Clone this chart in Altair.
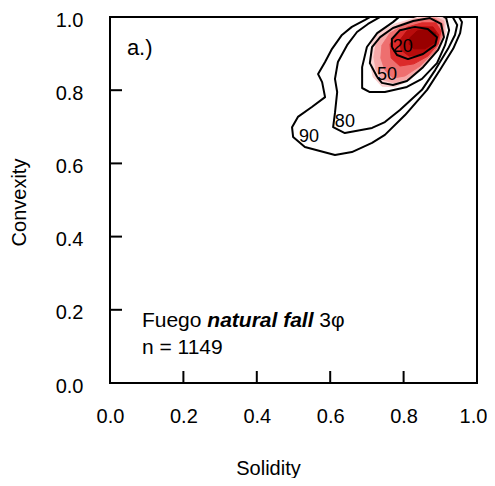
import altair as alt
import pandas as pd

# ---------------- data ----------------
tick_values = [0.0, 0.2, 0.4, 0.6, 0.8, 1.0]

# density contour lines (Solidity, Convexity)
contour_90 = [(0.722, 1.008), (0.695, 0.992), (0.659, 0.973), (0.632, 0.951), (0.605, 0.913),
              (0.586, 0.877), (0.567, 0.844), (0.578, 0.822), (0.586, 0.781), (0.550, 0.754),
              (0.512, 0.727), (0.496, 0.699), (0.499, 0.672), (0.531, 0.645), (0.613, 0.623),
              (0.659, 0.631), (0.714, 0.656), (0.749, 0.678), (0.804, 0.732), (0.864, 0.801),
              (0.899, 0.855), (0.935, 0.913), (0.954, 0.956), (0.959, 0.986), (0.940, 1.019),
              (0.845, 1.025)]
contour_80 = [(0.741, 1.003), (0.703, 0.981), (0.673, 0.959), (0.646, 0.923), (0.621, 0.877),
              (0.613, 0.831), (0.619, 0.795), (0.613, 0.738), (0.608, 0.699), (0.640, 0.683),
              (0.714, 0.697), (0.749, 0.713), (0.790, 0.746), (0.850, 0.801), (0.886, 0.855),
              (0.921, 0.913), (0.940, 0.951), (0.946, 0.978), (0.926, 1.014), (0.790, 1.022)]
contour_70 = [(0.804, 1.014), (0.771, 0.986), (0.728, 0.956), (0.700, 0.918), (0.687, 0.863),
              (0.687, 0.806), (0.708, 0.795), (0.749, 0.795), (0.809, 0.809), (0.850, 0.831),
              (0.891, 0.874), (0.913, 0.923), (0.924, 0.964), (0.916, 0.997), (0.886, 1.016)]
contour_50 = [(0.728, 0.836), (0.708, 0.874), (0.714, 0.918), (0.736, 0.945), (0.771, 0.970),
              (0.826, 0.989), (0.872, 0.997), (0.902, 0.981), (0.910, 0.945), (0.894, 0.910),
              (0.853, 0.863), (0.809, 0.825), (0.771, 0.814), (0.741, 0.820)]
contour_20 = [(0.768, 0.918), (0.768, 0.940), (0.790, 0.964), (0.831, 0.973), (0.866, 0.967),
              (0.891, 0.945), (0.886, 0.923), (0.853, 0.899), (0.812, 0.885), (0.782, 0.896)]

# filled density bands, outermost to innermost
band_1 = [(0.714, 0.932), (0.736, 0.959), (0.777, 0.981), (0.831, 0.997), (0.877, 1.008),
          (0.913, 0.997), (0.916, 0.959), (0.899, 0.915), (0.858, 0.866), (0.817, 0.828),
          (0.777, 0.809), (0.741, 0.811), (0.717, 0.836), (0.708, 0.883)]
band_2 = [(0.725, 0.926), (0.747, 0.956), (0.785, 0.978), (0.834, 0.995), (0.880, 1.003),
          (0.910, 0.989), (0.910, 0.954), (0.891, 0.910), (0.850, 0.863), (0.809, 0.831),
          (0.774, 0.820), (0.744, 0.828), (0.725, 0.855), (0.719, 0.891)]
band_3 = [(0.741, 0.923), (0.763, 0.956), (0.796, 0.975), (0.839, 0.992), (0.883, 0.997),
          (0.907, 0.981), (0.905, 0.948), (0.886, 0.907), (0.845, 0.866), (0.804, 0.839),
          (0.771, 0.833), (0.749, 0.855), (0.738, 0.888)]
band_4 = [(0.763, 0.926), (0.782, 0.956), (0.812, 0.973), (0.850, 0.984), (0.888, 0.984),
          (0.902, 0.962), (0.894, 0.926), (0.866, 0.893), (0.828, 0.872), (0.790, 0.866),
          (0.766, 0.888)]
band_5 = [(0.790, 0.937), (0.809, 0.962), (0.845, 0.973), (0.880, 0.973), (0.896, 0.951),
          (0.886, 0.921), (0.853, 0.899), (0.815, 0.893), (0.793, 0.910)]
band_6 = [(0.817, 0.943), (0.837, 0.962), (0.866, 0.967), (0.888, 0.956), (0.883, 0.929),
          (0.858, 0.913), (0.828, 0.913), (0.815, 0.926)]

contour_label_text = ["20", "50", "80", "90"]
contour_label_solidity = [0.798, 0.755, 0.640, 0.542]
contour_label_convexity = [0.918, 0.842, 0.713, 0.672]

panel_label = "a.)"
sample_parts = ["Fuego", "natural fall", "3φ"]
sample_count = "n = 1149"

# ---------------- styling ----------------
W, H = 367, 366
TICK = 12
FONT = "Liberation Sans"
ANN = 21
band_names = ["b1", "b2", "b3", "b4", "b5", "b6"]
band_colors = ["#fbd2d2", "#f6a8a8", "#ee6f6f", "#dc2b2b", "#b80c0c", "#990000"]


def poly(points, name, close):
    rows = [{"name": name, "i": k, "Solidity": x, "Convexity": y} for k, (x, y) in enumerate(points)]
    if close:
        rows.append({"name": name, "i": len(points), "Solidity": points[0][0], "Convexity": points[0][1]})
    return rows


x_scale = alt.Scale(domain=[0, 1], nice=False, zero=False)
y_scale = alt.Scale(domain=[0, 1], nice=False, zero=False)
x_enc = alt.X("Solidity:Q", scale=x_scale,
              axis=alt.Axis(values=tick_values, format=".1f", title="Solidity",
                            titleX=158, titleY=85, titleBaseline="middle", titleAlign="center",
                            labelOffset={"condition": {"test": "datum.value >= 1", "value": -4},
                                         "value": 0}))
y_enc = alt.Y("Convexity:Q", scale=y_scale,
              axis=alt.Axis(values=tick_values, format=".1f", title="Convexity",
                            titleX=-91, titleY=185, titleAngle=270, titleBaseline="middle",
                            titleAlign="center"))

layers = []
band_data = [band_1, band_2, band_3, band_4, band_5, band_6]
for name, pts, col in zip(band_names, band_data, band_colors):
    df = pd.DataFrame(poly(pts, name, True))
    layers.append(
        alt.Chart(df).mark_line(filled=True, fill=col, stroke=col, strokeWidth=1,
                                clip=True, interpolate="linear")
        .encode(x=x_enc, y=y_enc, order="i:Q")
    )

line_rows = []
for name, pts in [("90", contour_90), ("80", contour_80), ("70", contour_70),
                  ("50", contour_50), ("20", contour_20)]:
    line_rows += poly(pts, name, True)
lines = alt.Chart(pd.DataFrame(line_rows)).mark_line(
    color="black", strokeWidth=2, clip=True, strokeJoin="round"
).encode(x=x_enc, y=y_enc, detail="name:N", order="i:Q")
layers.append(lines)

lab_df = pd.DataFrame({"Solidity": contour_label_solidity,
                       "Convexity": contour_label_convexity,
                       "t": contour_label_text})
layers.append(
    alt.Chart(lab_df).mark_text(font=FONT, fontSize=18, color="black")
    .encode(x=x_enc, y=y_enc, text="t:N")
)

# panel label and annotation
layers.append(
    alt.Chart(pd.DataFrame({"Solidity": [0.046], "Convexity": [0.915], "t": [panel_label]}))
    .mark_text(font=FONT, fontSize=22, align="left", baseline="middle", color="black")
    .encode(x=x_enc, y=y_enc, text="t:N")
)
ann_y = 0.169
ann_x = 0.087
layers.append(
    alt.Chart(pd.DataFrame({"Solidity": [ann_x], "Convexity": [ann_y], "t": [sample_parts[0]]}))
    .mark_text(font=FONT, fontSize=ANN, align="left", baseline="middle", color="black")
    .encode(x=x_enc, y=y_enc, text="t:N")
)
layers.append(
    alt.Chart(pd.DataFrame({"Solidity": [ann_x], "Convexity": [ann_y], "t": [sample_parts[1]]}))
    .mark_text(font=FONT, fontSize=ANN, align="left", baseline="middle", color="black",
               fontWeight="bold", fontStyle="italic", dx=ANN * 3.113)
    .encode(x=x_enc, y=y_enc, text="t:N")
)
layers.append(
    alt.Chart(pd.DataFrame({"Solidity": [ann_x], "Convexity": [ann_y], "t": [sample_parts[2]]}))
    .mark_text(font=FONT, fontSize=ANN, align="left", baseline="middle", color="black",
               dx=ANN * (3.113 + 5.057 + 0.278))
    .encode(x=x_enc, y=y_enc, text="t:N")
)
layers.append(
    alt.Chart(pd.DataFrame({"Solidity": [ann_x], "Convexity": [0.096], "t": [sample_count]}))
    .mark_text(font=FONT, fontSize=ANN, align="left", baseline="middle", color="black")
    .encode(x=x_enc, y=y_enc, text="t:N")
)

# inward ticks
tick_df = pd.DataFrame({"Solidity": tick_values, "Convexity": tick_values})
layers.append(
    alt.Chart(tick_df).mark_rule(color="black", strokeWidth=2)
    .encode(x=x_enc, y=alt.value(H), y2=alt.value(H - TICK))
)
layers.append(
    alt.Chart(tick_df).mark_rule(color="black", strokeWidth=2)
    .encode(y=y_enc, x=alt.value(0), x2=alt.value(TICK))
)

chart = alt.layer(*layers).properties(
    width=W, height=H,
    autosize=alt.AutoSizeParams(type="none"),
    padding={"left": 102, "top": 9, "right": 10, "bottom": 95},
).configure_view(
    stroke="black", strokeWidth=2
).configure_axis(
    domain=False, ticks=False, tickSize=0, grid=False, labelFlush=False,
    labelFont=FONT, labelFontSize=20, labelColor="black",
    titleFont=FONT, titleFontSize=20, titleColor="black", titleFontWeight="normal",
).configure_axisX(
    labelPadding=33, labelBaseline="middle"
).configure_axisY(
    labelPadding=27, labelOffset=3
)

chart.save("out.html", embed_options={"renderer": "svg", "actions": False})
